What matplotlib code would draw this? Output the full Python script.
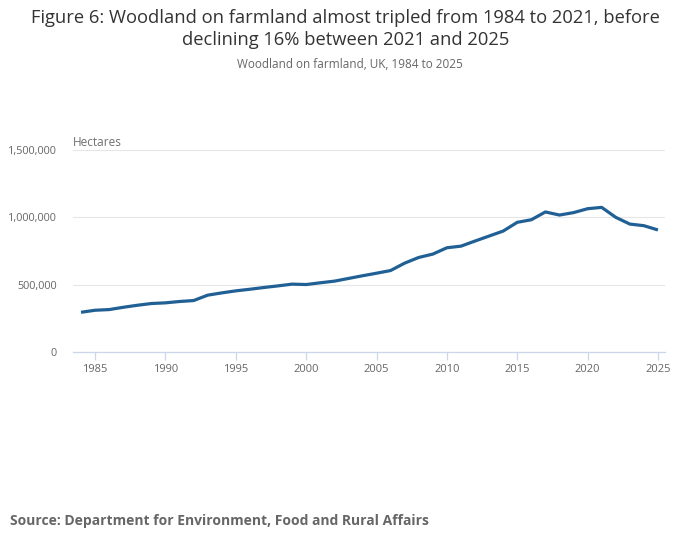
import matplotlib
matplotlib.use("Agg")
import matplotlib.pyplot as plt
from matplotlib.ticker import FuncFormatter

years = list(range(1984, 2026))
hectares = [295000, 310000, 315000, 332000, 347000, 360000, 365000, 375000, 382000,
            422000, 439000, 454000, 466000, 479000, 491000, 504000, 501000, 514000,
            526000, 546000, 566000, 585000, 605000, 660000, 702000, 727000, 774000,
            786000, 824000, 861000, 898000, 963000, 982000, 1040000, 1017000, 1035000,
            1064000, 1074000, 1000000, 950000, 938000, 906000]
x_ticks = [1985, 1990, 1995, 2000, 2005, 2010, 2015, 2020, 2025]
y_ticks = [0, 500000, 1000000, 1500000]

title = "Figure 6: Woodland on farmland almost tripled from 1984 to 2021, before\ndeclining 16% between 2021 and 2025"
subtitle = "Woodland on farmland, UK, 1984 to 2025"
unit = "Hectares"
source = "Source: Department for Environment, Food and Rural Affairs"

plt.rcParams['font.family'] = ['Open Sans', 'DejaVu Sans']

fig = plt.figure(figsize=(7.0, 5.49), dpi=100)
ax = fig.add_axes([73/700, 1-352/549, (665-73)/700, (352-150)/549])

ax.plot(years, hectares, color="#206095", linewidth=2.3, solid_capstyle="butt")

ax.set_xlim(1983.43, 2025.5)
ax.set_ylim(0, 1500000)
ax.set_xticks(x_ticks)
ax.set_yticks(y_ticks)
ax.yaxis.set_major_formatter(FuncFormatter(lambda v, p: f"{int(v):,}"))

ax.grid(axis="y", color="#e6e6e6", linewidth=0.8)
ax.set_axisbelow(True)
for s in ["top", "right", "left"]:
    ax.spines[s].set_visible(False)
ax.spines["bottom"].set_color("#ccd6eb")
ax.spines["bottom"].set_linewidth(0.9)

ax.tick_params(axis="x", colors="#ccd6eb", length=6, width=0.9, labelcolor="#666666",
               labelsize=8, pad=3)
ax.tick_params(axis="y", length=0, labelcolor="#666666", labelsize=7.8, pad=11.5)

fig.text(73/700, 1-142/549, unit, fontsize=8.5, color="#707070", ha="left", va="center")

fig.text(0.494, 1-29/549, title, fontsize=13.2, color="#333333", ha="center", va="center",
         linespacing=1.22)
fig.text(0.5, 1-64/549, subtitle, fontsize=8.5, color="#666666", ha="center", va="center")
fig.text(10/700, 1-521/549, source, fontsize=10, color="#666666", ha="left", va="center",
         fontweight="bold")

fig.savefig("out.png", dpi=100)
